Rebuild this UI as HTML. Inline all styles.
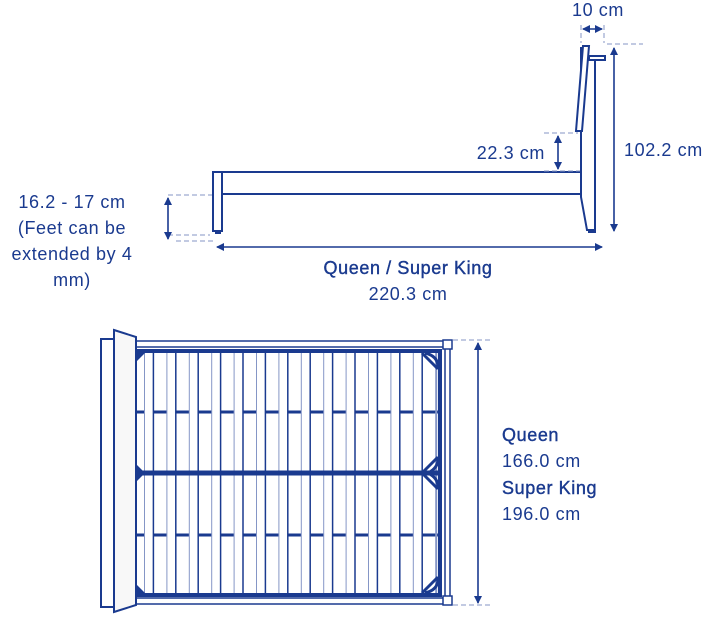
<!DOCTYPE html>
<html><head><meta charset="utf-8"><style>
html,body{margin:0;padding:0;background:#fff;}
svg{display:block;}
text{font-family:"Liberation Sans",sans-serif;font-size:18px;letter-spacing:0.6px;fill:#1a3a8f;}
.m{stroke:#1a3a8f;stroke-width:0.4px;}
</style></head><body>
<svg width="707" height="619" viewBox="0 0 707 619" xmlns="http://www.w3.org/2000/svg">
<defs>
<marker id="a" markerWidth="8" markerHeight="8" refX="7" refY="4" orient="auto-start-reverse" markerUnits="userSpaceOnUse"><path d="M0,0 L8,4 L0,8 z" fill="#1a3a8f"/></marker>
</defs>
<g fill="none" stroke="#1a3a8f" stroke-width="2">
<rect x="213" y="172" width="9" height="59" fill="#fff"/>
<rect x="215" y="231" width="6" height="3" fill="#1a3a8f" stroke="none"/>
<line x1="222" y1="172" x2="581" y2="172"/>
<line x1="222" y1="194" x2="581" y2="194"/>
<path d="M581,47 L581,197 L587,230 L595,230 L595,57" fill="#fff"/>
<rect x="588" y="230" width="8" height="3" fill="#1a3a8f" stroke="none"/>
<rect x="589" y="56" width="16" height="4" fill="#fff"/>
<path d="M583,46 L589,46 L582,131 L576,131 Z" fill="#fff"/>
</g>
<g stroke="#8596c6" stroke-width="1" stroke-dasharray="5,3" fill="none">
<line x1="168" y1="195" x2="212" y2="195"/>
<line x1="168" y1="235" x2="210" y2="235"/>
<line x1="176" y1="241" x2="215" y2="241"/>
<line x1="581" y1="25" x2="581" y2="43"/>
<line x1="604" y1="25" x2="604" y2="43"/>
<line x1="607" y1="44" x2="643" y2="44"/>
<line x1="544" y1="133" x2="578" y2="133"/>
<line x1="544" y1="171" x2="580" y2="171"/>
<line x1="453" y1="340" x2="492" y2="340"/>
<line x1="453" y1="605" x2="492" y2="605"/>
</g>
<g stroke="#1a3a8f" stroke-width="1.6" fill="none">
<line x1="168" y1="198" x2="168" y2="239" marker-start="url(#a)" marker-end="url(#a)"/>
<line x1="217" y1="247" x2="602" y2="247" marker-start="url(#a)" marker-end="url(#a)"/>
<line x1="583" y1="29" x2="602" y2="29" marker-start="url(#a)" marker-end="url(#a)"/>
<line x1="614" y1="48" x2="614" y2="231" marker-start="url(#a)" marker-end="url(#a)"/>
<line x1="558" y1="136" x2="558" y2="169" marker-start="url(#a)" marker-end="url(#a)"/>
<line x1="478" y1="343" x2="478" y2="603" marker-start="url(#a)" marker-end="url(#a)"/>
</g>
<g stroke="#1a3a8f" fill="none">
<line x1="135" y1="412" x2="440" y2="412" stroke-width="3"/>
<line x1="135" y1="535" x2="440" y2="535" stroke-width="3"/>
</g>
<g id="slats"></g>
<g stroke="#1a3a8f" fill="none">
<rect x="135" y="341" width="310" height="6" stroke-width="1.5" fill="#fff"/>
<rect x="135" y="598" width="310" height="6" stroke-width="1.5" fill="#fff"/>
<line x1="135" y1="351" x2="440" y2="351" stroke-width="4"/>
<line x1="135" y1="595" x2="440" y2="595" stroke-width="4"/>
<line x1="135" y1="473" x2="440" y2="473" stroke-width="5"/>
<line x1="440" y1="349" x2="440" y2="597" stroke-width="4"/>
<rect x="445" y="343" width="5" height="257" stroke-width="1.5" fill="#fff"/>
<rect x="443" y="340" width="9" height="9" stroke-width="1.5" fill="#fff"/>
<rect x="443" y="596" width="9" height="9" stroke-width="1.5" fill="#fff"/>
<path d="M422,353 L438,369 M425,353 Q438,356 438,367" stroke-width="3"/>
<path d="M422,593 L438,577 M425,593 Q438,590 438,579" stroke-width="3"/>
<path d="M422,473 L438,457 M422,473 L438,489 M428,473 Q438,468 438,459 M428,473 Q438,478 438,487" stroke-width="3"/>
<path d="M137,353 L145,353 L137,361 Z M137,465 L145,473 L137,481 Z M137,593 L145,593 L137,585 Z" fill="#1a3a8f" stroke="none"/>
<rect x="101" y="339" width="14" height="268" stroke-width="2" fill="#fff"/>
<path d="M114,330 L136,337 L136,605 L114,612 Z" stroke-width="2" fill="#f8f8f8"/>
</g>
<text x="598" y="16" text-anchor="middle">10 cm</text>
<text x="624" y="156">102.2 cm</text>
<text x="545" y="159" text-anchor="end">22.3 cm</text>
<text x="72" y="208" text-anchor="middle">16.2 - 17 cm</text>
<text x="72" y="234" text-anchor="middle">(Feet can be</text>
<text x="72" y="260" text-anchor="middle">extended by 4</text>
<text x="72" y="286" text-anchor="middle">mm)</text>
<text x="408" y="274" text-anchor="middle" class="m">Queen / Super King</text>
<text x="408" y="300" text-anchor="middle">220.3 cm</text>
<text x="502" y="441" class="m">Queen</text>
<text x="502" y="467">166.0 cm</text>
<text x="502" y="494" class="m">Super King</text>
<text x="502" y="520">196.0 cm</text>
</svg>
<script>
var g=document.getElementById('slats'),s='';
for(var k=-1;k<14;k++){var d=131+22.4*k, l=d-8.4;
if(l>=136&&d<=437){s+='<rect x="'+l+'" y="349" width="8.4" height="248" fill="#fff"/>';}
if(d>136&&d<437)s+='<line x1="'+d+'" y1="349" x2="'+d+'" y2="597" stroke="#1a3a8f" stroke-width="1.5"/>';
var y=d+14;if(y<437&&y>136)s+='<line x1="'+y+'" y1="349" x2="'+y+'" y2="597" stroke="#8596c6" stroke-width="2"/>';}
g.innerHTML=s;
</script>
</body></html>
